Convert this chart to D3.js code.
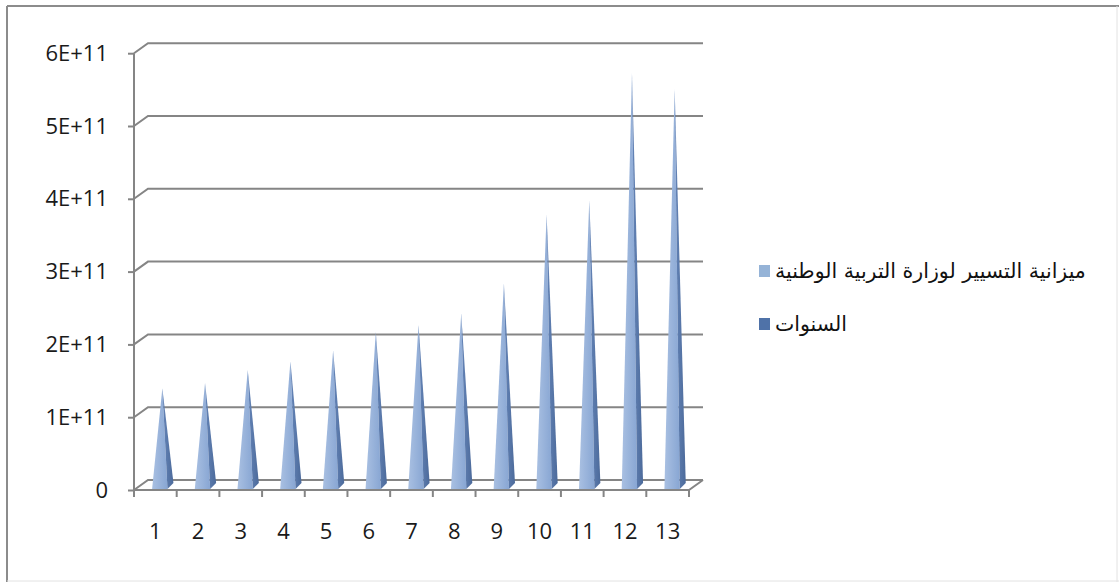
<!DOCTYPE html>
<html>
<head>
<meta charset="utf-8">
<script src="https://cdn.jsdelivr.net/npm/d3@7"></script>
<style>
  body { margin: 0; background: #fff; }
  svg { display: block; }
</style>
</head>
<body>
<div id="chart"></div>
<script>
// Data
const years = ['1', '2', '3', '4', '5', '6', '7', '8', '9', '10', '11', '12', '13'];
const budget = [1.33e11, 1.40e11, 1.58e11, 1.70e11, 1.85e11, 2.10e11, 2.20e11, 2.36e11, 2.77e11, 3.72e11, 3.91e11, 5.66e11, 5.44e11];
const yTicks = [0, 1e11, 2e11, 3e11, 4e11, 5e11, 6e11];
const yTickLabels = ['0', '1E+11', '2E+11', '3E+11', '4E+11', '5E+11', '6E+11'];
const seriesNames = ['ميزانية التسيير لوزارة التربية الوطنية', 'السنوات'];
const seriesColors = ['#95b3d7', '#4f72a8'];

const svgWidth = 1119;
const svgHeight = 582;
const gridColor = '#858585';
const labelFont = "'Open Sans', sans-serif";

// 3D depth offsets (back wall and middle of the floor)
const depth = { dx: 14, dy: -10 };
const mid = { dx: 7, dy: -5 };

let svg = d3.select('#chart')
    .append('svg')
    .attr('width', svgWidth)
    .attr('height', svgHeight);

// Gradients for the pyramid faces
let defs = svg.append('defs');
let gFront = defs.append('linearGradient').attr('id', 'front').attr('x1', 0).attr('x2', 1).attr('y1', 0).attr('y2', 0);
gFront.append('stop').attr('offset', '0%').attr('stop-color', '#a9c0e2');
gFront.append('stop').attr('offset', '100%').attr('stop-color', '#88a6d3');
let gSide = defs.append('linearGradient').attr('id', 'side').attr('x1', 0).attr('x2', 1).attr('y1', 0).attr('y2', 0);
gSide.append('stop').attr('offset', '0%').attr('stop-color', '#6585b8');
gSide.append('stop').attr('offset', '100%').attr('stop-color', '#4c6a9a');

// Outer frame
svg.append('line').attr('x1', 7).attr('y1', 6).attr('x2', svgWidth).attr('y2', 6)
    .attr('stroke', '#8c8c8c').attr('stroke-width', 2);
svg.append('line').attr('x1', 7).attr('y1', 6).attr('x2', 7).attr('y2', svgHeight)
    .attr('stroke', '#8c8c8c').attr('stroke-width', 2);
svg.append('line').attr('x1', 1117).attr('y1', 6).attr('x2', 1117).attr('y2', svgHeight)
    .attr('stroke', '#e2e2e2').attr('stroke-width', 1);
svg.append('line').attr('x1', 7).attr('y1', 581).attr('x2', svgWidth).attr('y2', 581)
    .attr('stroke', '#e2e2e2').attr('stroke-width', 1);

// Scales (front plane)
let xScale = d3.scaleBand()
    .domain(years)
    .range([134, 689])
    .padding(0);

let yScale = d3.scaleLinear()
    .domain([0, 6e11])
    .range([490, 53.2]);

const x0 = xScale.range()[0];
const x1 = xScale.range()[1];
const bw = xScale.bandwidth();

// Back wall gridlines with the diagonal joints to the front axis
let grid = svg.append('g').attr('stroke', gridColor).attr('stroke-width', 2).attr('fill', 'none');
grid.selectAll('.gl')
    .data(yTicks)
    .enter()
    .append('polyline')
    .attr('points', d => [
        [x0, yScale(d)],
        [x0 + depth.dx, yScale(d) + depth.dy],
        [x1 + depth.dx, yScale(d) + depth.dy]
    ].map(p => p.join(',')).join(' '));

// Floor front edge and right side
grid.append('polyline')
    .attr('points', [
        [x0, yScale(0)],
        [x1, yScale(0)],
        [x1 + depth.dx, yScale(0) + depth.dy]
    ].map(p => p.join(',')).join(' '));

// Category boundary ticks below the floor
grid.selectAll('.xt')
    .data(years.map(d => xScale(d)).concat([x1]))
    .enter()
    .append('line')
    .attr('x1', d => d).attr('x2', d => d)
    .attr('y1', yScale(0)).attr('y2', yScale(0) + 7);

// Y axis (front)
let yAxis = d3.axisLeft(yScale)
    .tickValues(yTicks)
    .tickFormat((d, i) => yTickLabels[i])
    .tickSizeInner(6)
    .tickSizeOuter(0)
    .tickPadding(20);

let yAxisG = svg.append('g')
    .attr('transform', `translate(${x0},0)`)
    .call(yAxis);
yAxisG.select('.domain').remove();
yAxisG.selectAll('.tick line').attr('stroke', gridColor).attr('stroke-width', 2);
yAxisG.selectAll('.tick text')
    .attr('fill', '#1a1a1a')
    .style('font-family', labelFont)
    .style('font-size', '22px');
yAxisG.append('line')
    .attr('x1', 0).attr('x2', 0)
    .attr('y1', yScale(6e11)).attr('y2', yScale(0) + 7)
    .attr('stroke', gridColor).attr('stroke-width', 2);

// X axis labels
let xAxis = d3.axisBottom(xScale)
    .tickSize(0)
    .tickPadding(33);

let xAxisG = svg.append('g')
    .attr('transform', `translate(0,${yScale(0)})`)
    .call(xAxis);
xAxisG.select('.domain').remove();
xAxisG.selectAll('.tick text')
    .attr('fill', '#1a1a1a')
    .style('font-family', labelFont)
    .style('font-size', '22px');

// Pyramids
let pyr = svg.append('g');
budget.forEach((v, i) => {
    const cx = xScale(years[i]) + bw / 2 + mid.dx;
    const apexY = yScale(v) + mid.dy;
    const baseY = yScale(0) - 1;
    const left = cx - 0.24 * bw;
    const right = cx + 0.12 * bw;
    const back = cx + 0.26 * bw;
    pyr.append('path')
        .attr('d', `M${left},${baseY}L${right},${baseY}L${cx},${apexY}Z`)
        .attr('fill', 'url(#front)');
    pyr.append('path')
        .attr('d', `M${right},${baseY}L${back},${baseY - 6}L${cx},${apexY}Z`)
        .attr('fill', 'url(#side)');
});

// Legend
let legend = svg.selectAll('.legend')
    .data(seriesNames)
    .enter()
    .append('g')
    .attr('class', 'legend')
    .attr('transform', (d, i) => `translate(759,${265 + i * 53})`);

legend.append('rect')
    .attr('width', 11)
    .attr('height', 12)
    .attr('fill', (d, i) => seriesColors[i]);

legend.append('text')
    .attr('x', 16)
    .attr('y', 6)
    .attr('dy', '0.35em')
    .style('font-family', "'DejaVu Sans', sans-serif")
    .style('font-size', '20.5px')
    .attr('fill', '#111')
    .text(d => d);
</script>
</body>
</html>
